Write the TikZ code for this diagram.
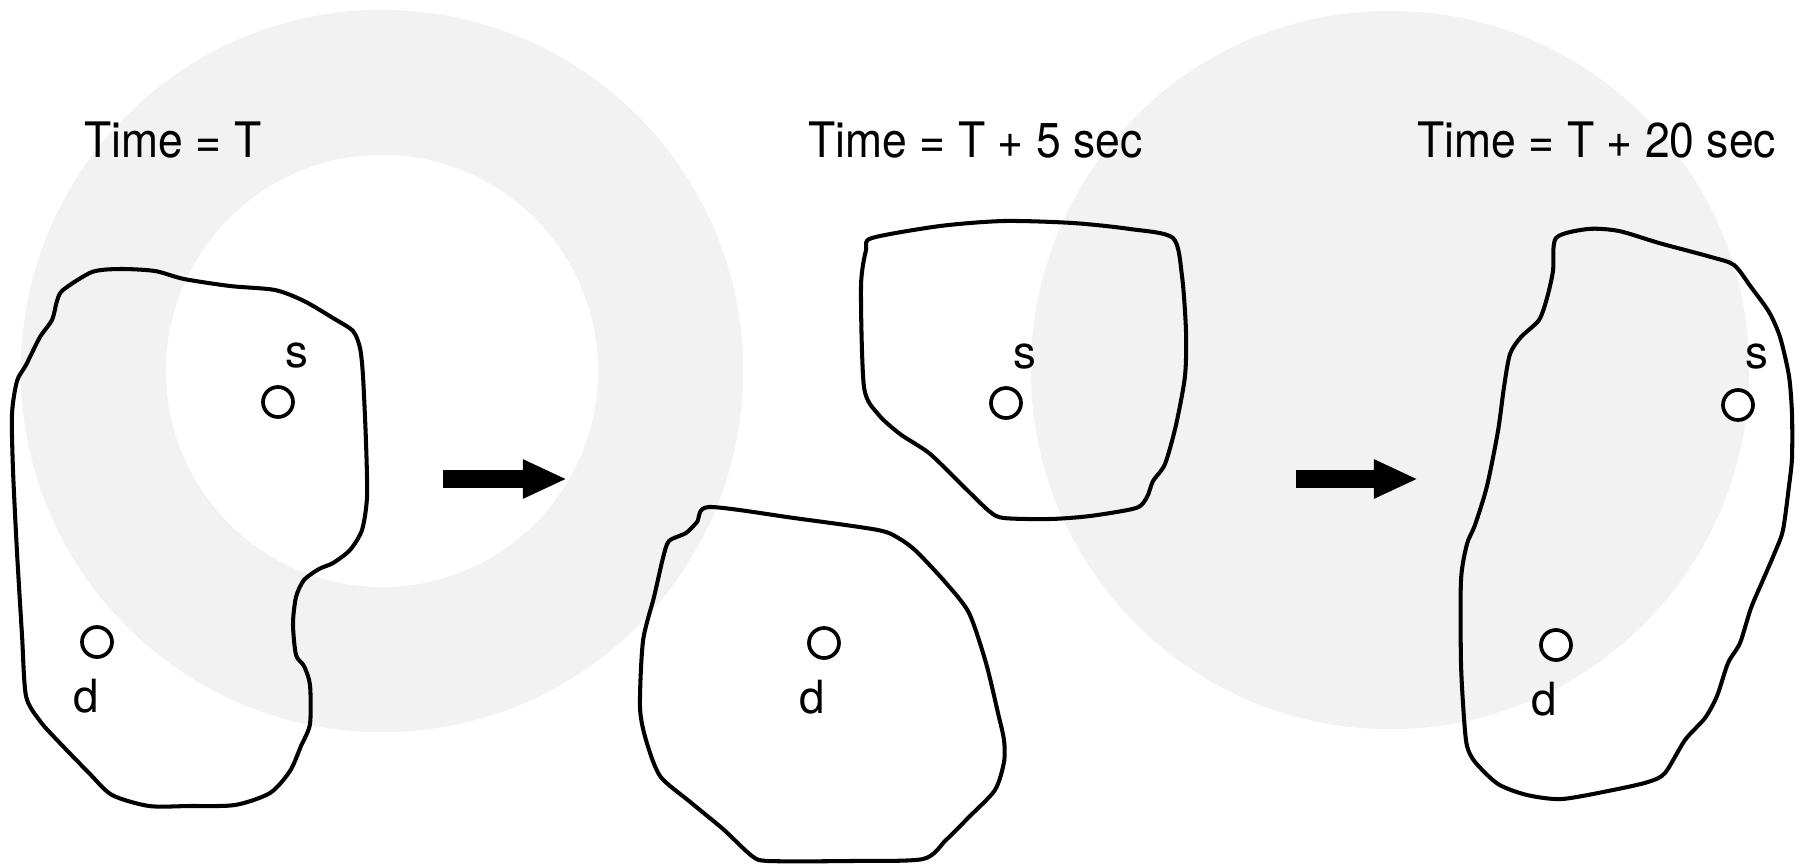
\documentclass[tikz,border=0pt]{standalone}
\usepackage{fontspec}
\setmainfont{TeX Gyre Heros}
\usetikzlibrary{arrows.meta}
\definecolor{haze}{RGB}{242,242,242}
\tikzset{
  outline/.style={draw=black, line width=1.15pt, line join=round},
  host/.style={circle, draw=black, fill=white, line width=1.05pt, minimum size=0.3cm, inner sep=0pt},
  tag/.style={font=\fontsize{13}{15}\selectfont, inner sep=0pt, anchor=base},
  stamp/.style={font=\fontsize{13.9}{16}\selectfont, inner sep=0pt, anchor=base west},
  movearrow/.style={line width=0.18cm, -{Triangle[length=0.44cm, width=0.36cm]}}
}
\newcommand{\squeezed}[1]{\scalebox{0.91}[1]{#1}}
\begin{document}
\begin{tikzpicture}[x=0.01cm, y=-0.01cm]
\useasboundingbox (0,0) rectangle (1802,866);

% pale background discs
\fill[haze, even odd rule] (382,371) circle[radius=3.61cm] (382,371) circle[radius=2.16cm];
\fill[haze] (1390,370) circle[radius=3.59cm];

% captions
\node[stamp] (t0) at (84,157) {\squeezed{Time = T}};
\node[stamp] (t5) at (808,157) {\squeezed{Time = T + 5 sec}};
\node[stamp] (t20) at (1417,157) {\squeezed{Time = T + 20 sec}};

% group at time T
\draw[outline] plot[smooth cycle, tension=0.45] coordinates {
 (63,290) (92,272) (120,269) (155,271) (184,279) (230,286) (275,290) (304,301)
 (333,318) (353,331) (360,348) (363,376) (366,442) (367,497) (362,530) (350,550)
 (333,563) (319,569) (304,580) (296,597) (293,624) (296,655) (304,666) (310,685)
 (310,724) (301,746) (290,771) (270,793) (235,805) (189,806) (149,806) (112,795)
 (89,773) (57,740) (40,721) (26,696) (22,635) (17,552) (13,470) (12,414)
 (17,381) (26,365) (40,337) (52,320) (57,301)};

% groups at time T + 5 sec
\draw[outline] plot[smooth cycle, tension=0.45] coordinates {
 (872,238) (940,226) (1004,221) (1073,223) (1130,229) (1173,238) (1182,276)
 (1186,331) (1185,376) (1176,425) (1165,464) (1153,481) (1147,497) (1136,508)
 (1090,516) (1050,519) (1004,518) (989,511) (958,481) (929,453) (900,434)
 (878,414) (864,387) (861,287) (866,250)};
\draw[outline] plot[smooth cycle, tension=0.45] coordinates {
 (709,507) (794,518) (878,530) (900,539) (917,552) (946,583) (969,613) (986,663)
 (998,713) (1004,740) (1004,762) (995,790) (969,817) (946,840) (923,859)
 (850,861) (769,861) (752,856) (723,829) (689,801) (660,776) (646,740)
 (640,707) (643,641) (654,597) (663,558) (669,541) (686,533) (697,522)};

% group at time T + 20 sec
\draw[outline] plot[smooth cycle, tension=0.45] coordinates {
 (1556,238) (1588,229) (1619,231) (1659,243) (1711,257) (1734,265) (1751,287)
 (1769,312) (1780,337) (1789,376) (1792,414) (1792,458) (1789,486) (1783,530)
 (1775,552) (1763,580) (1751,608) (1740,643) (1728,663) (1717,696) (1705,718)
 (1685,740) (1665,773) (1648,782) (1613,790) (1562,799) (1527,795) (1498,784)
 (1475,762) (1467,746) (1464,718) (1461,663) (1461,580) (1467,544) (1475,525)
 (1487,486) (1498,431) (1504,387) (1510,354) (1521,337) (1539,320) (1547,298)
 (1553,271)};

% source and destination hosts
\node[host] (s1) at (278,402) {};
\node[host] (d1) at (97,642) {};
\node[host] (s2) at (1006,403) {};
\node[host] (d2) at (824,643) {};
\node[host] (s3) at (1738,405) {};
\node[host] (d3) at (1556,645) {};

\node[tag] (ls1) at (297,367) {s};
\node[tag] (ld1) at (86,712) {d};
\node[tag] (ls2) at (1025,368) {s};
\node[tag] (ld2) at (812,713) {d};
\node[tag] (ls3) at (1757,368) {s};
\node[tag] (ld3) at (1544,715) {d};

% time-step arrows
\coordinate (a1s) at (443,479);
\coordinate (a1e) at (567,479);
\coordinate (a2s) at (1296,479);
\coordinate (a2e) at (1418,479);
\draw[movearrow] (a1s) -- (a1e);
\draw[movearrow] (a2s) -- (a2e);
\end{tikzpicture}
\end{document}
